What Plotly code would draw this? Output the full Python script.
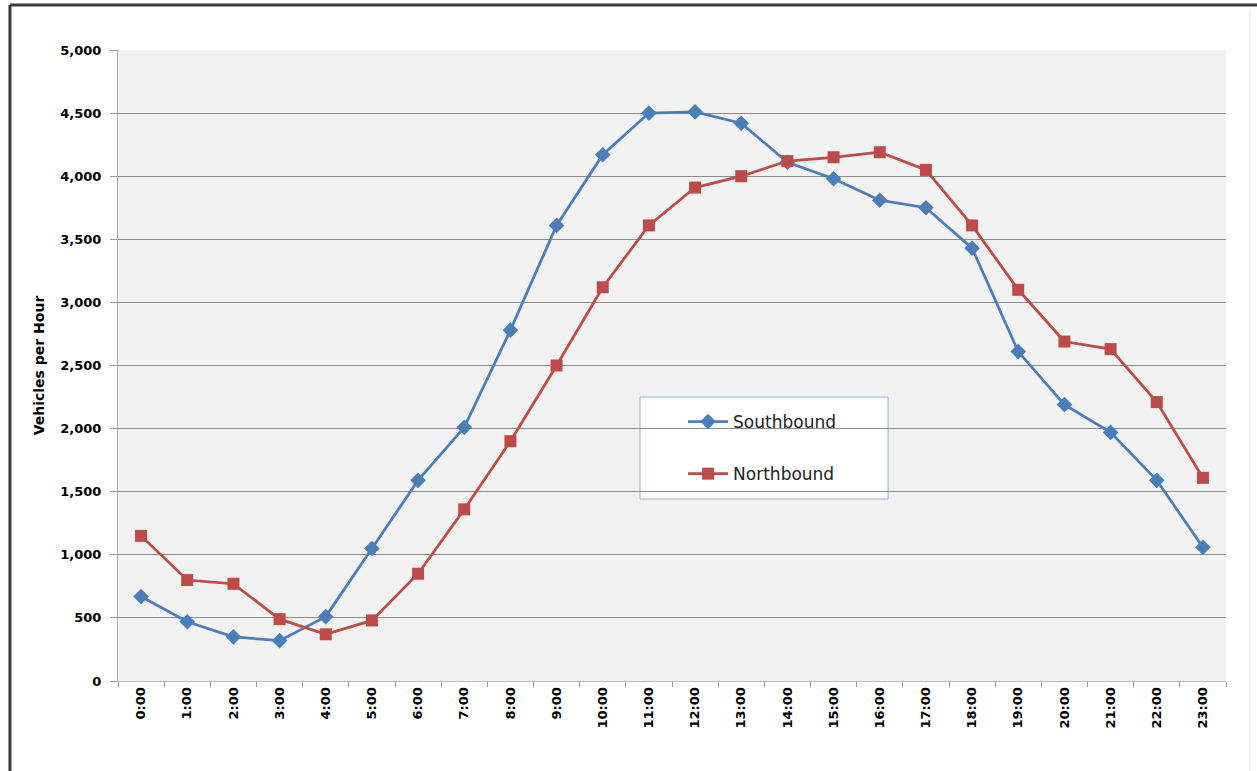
import plotly.graph_objects as go

hours = [f"{h}:00" for h in range(24)]
southbound = [670, 470, 350, 320, 510, 1050, 1590, 2010, 2780, 3610, 4170, 4500,
              4510, 4420, 4110, 3980, 3810, 3750, 3430, 2610, 2190, 1970, 1590, 1060]
northbound = [1150, 800, 770, 490, 370, 480, 850, 1360, 1900, 2500, 3120, 3610,
              3910, 4000, 4120, 4150, 4190, 4050, 3610, 3100, 2690, 2630, 2210, 1610]
y_ticks = list(range(0, 5001, 500))

fig = go.Figure()
fig.add_trace(go.Scatter(
    x=hours, y=southbound, name="Southbound", mode="lines+markers",
    line=dict(color="#4a7ebb", width=2.75),
    marker=dict(symbol="diamond", size=12, color="#4a7ebb"),
    legendgroup="s"))
fig.add_trace(go.Scatter(
    x=hours, y=northbound, name="Northbound", mode="lines+markers",
    line=dict(color="#be4b48", width=2.75),
    marker=dict(symbol="square", size=12, color="#be4b48"),
    legendgroup="n"))

fig.update_layout(
    width=1257, height=771,
    margin=dict(l=118, r=31, t=50, b=90),
    paper_bgcolor="white",
    plot_bgcolor="#f2f2f2",
    font=dict(family="DejaVu Sans", color="black"),
    showlegend=True,
    legend=dict(
        x=0.510, y=0.439, xanchor="left", yanchor="top",
        bgcolor="rgba(0,0,0,0)", borderwidth=0,
        font=dict(family="DejaVu Sans", size=17, color="#222"),
        tracegroupgap=27, traceorder="grouped",
        itemwidth=40,
    ),
    xaxis=dict(
        type="category", range=[-0.5, 23.5],
        tickangle=-90, tickson="boundaries",
        ticks="outside", ticklen=5, tickcolor="#999",
        showline=True, linecolor="#bbb", linewidth=1,
        showgrid=False,
        tickfont=dict(family="DejaVu Sans", size=13, color="black", weight="bold"),
    ),
    yaxis=dict(
        range=[0, 5000], tickvals=y_ticks, tickformat=",",
        ticks="outside", ticklen=7, tickcolor="#999",
        ticklabelstandoff=6,
        showline=True, linecolor="#aaa", linewidth=1,
        showgrid=True, gridcolor="#8c8c8c", gridwidth=1,
        zeroline=False,
        tickfont=dict(family="DejaVu Sans", size=13, color="black", weight="bold"),
        title=dict(text="Vehicles per Hour", standoff=12,
                   font=dict(family="DejaVu Sans", size=14, color="black", weight="bold")),
    ),
    shapes=[
        # legend box
        dict(type="rect", xref="paper", yref="paper",
             x0=0.4711, x1=0.695, y0=0.2884, y1=0.450,
             fillcolor="white", line=dict(color="#9aaec8", width=1), layer="below"),
        # outer frame
        dict(type="line", xref="paper", yref="paper",
             x0=-0.0975, x1=1.03, y0=1.0713, y1=1.0713,
             line=dict(color="#3a3a3a", width=3)),
        dict(type="line", xref="paper", yref="paper",
             x0=-0.0975, x1=-0.0975, y0=1.0713, y1=-0.15,
             line=dict(color="#3a3a3a", width=3)),
        dict(type="line", xref="paper", yref="paper",
             x0=1.0215, x1=1.0215, y0=1.06, y1=-0.15,
             line=dict(color="#e4e4e4", width=1)),
    ],
)

fig.write_html("out.html", config={"displayModeBar": False},
               post_script="document.body.style.margin='0';")
